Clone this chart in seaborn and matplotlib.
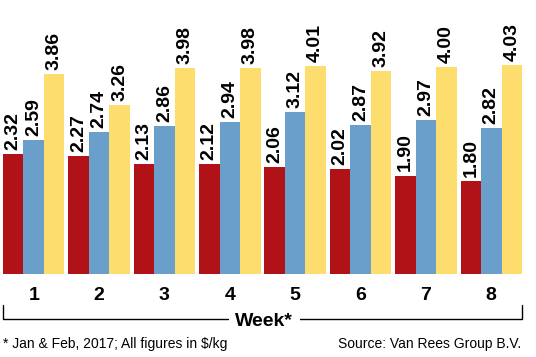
import pandas as pd
import seaborn as sns
import matplotlib.pyplot as plt

weeks = ["1", "2", "3", "4", "5", "6", "7", "8"]
low_grade = [2.32, 2.27, 2.13, 2.12, 2.06, 2.02, 1.90, 1.80]
mid_grade = [2.59, 2.74, 2.86, 2.94, 3.12, 2.87, 2.97, 2.82]
top_grade = [3.86, 3.26, 3.98, 3.98, 4.01, 3.92, 4.00, 4.03]
series = ["low", "mid", "top"]
colors = ["#B01217", "#6B9FCB", "#FEDD6F"]

sns.set_style("white")
plt.rcParams["font.family"] = ["Liberation Sans Narrow", "Liberation Sans", "DejaVu Sans"]
plt.rcParams["text.color"] = "black"
plt.rcParams["xtick.color"] = "black"

df = pd.DataFrame({"week": weeks * 3,
                   "series": [s for s in series for _ in weeks],
                   "price": low_grade + mid_grade + top_grade})

fig = plt.figure(figsize=(5.36, 3.57), dpi=100)
ax = fig.add_axes([3 / 536, 83 / 357, 519 / 536, 274 / 357])

sns.barplot(data=df, x="week", y="price", hue="series", hue_order=series,
            palette=colors, width=0.94, gap=0, saturation=1, legend=False,
            linewidth=0, ax=ax, errorbar=None)

for cont, vals in zip(ax.containers, [low_grade, mid_grade, top_grade]):
    ax.bar_label(cont, labels=[f"{v:.2f}" for v in vals], rotation=90,
                 padding=3, fontsize=14, fontweight="bold", color="black")

ax.set_xlim(-0.47, 7.47)
ax.set_ylim(0, 5.29)
ax.set_yticks([])
ax.set_xlabel("")
ax.set_ylabel("")
for s in ax.spines.values():
    s.set_visible(False)
ax.tick_params(axis="x", length=0, pad=9, labelsize=14)
for t in ax.get_xticklabels():
    t.set_fontweight("bold")

# bracket with "Week*"
tr = ax.transAxes
y_line = -45 / 274
y_top = -31 / 274
x_l, x_r = 0.0, 1.0
gl, gr = (228 - 3) / 519, (300 - 3) / 519
ax.plot([x_l, x_l, gl], [y_top, y_line, y_line], color="black", lw=1,
        transform=tr, clip_on=False)
ax.plot([gr, x_r, x_r], [y_line, y_line, y_top], color="black", lw=1,
        transform=tr, clip_on=False)
ax.text((gl + gr) / 2, y_line, "Week*", transform=tr, ha="center",
        va="center_baseline", fontsize=14, fontweight="bold")

fig.text(3 / 536, 13 / 357, "* Jan & Feb, 2017; All figures in $/kg",
         fontsize=10, ha="left", va="center")
fig.text(521 / 536, 13 / 357, "Source: Van Rees Group B.V.",
         fontsize=10, ha="right", va="center")

fig.savefig("out.png", dpi=100)
